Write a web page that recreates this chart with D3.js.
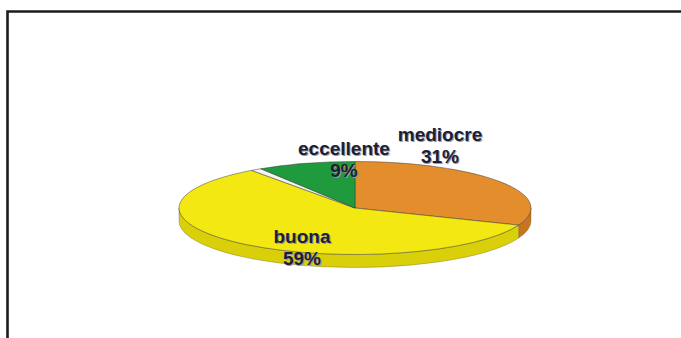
<!DOCTYPE html>
<html><head><meta charset="utf-8">
<script src="https://cdn.jsdelivr.net/npm/d3@7"></script>
<style>html,body{margin:0;padding:0;background:#fff;}svg{display:block;}</style>
</head><body>
<svg id="c" width="681" height="338"></svg>
<script>
// Data (clockwise from 12 o'clock)
const categories = ["mediocre", "buona", "", "eccellente"];
const values = [31, 59, 1, 9];
const labels = ["31%", "59%", "", "9%"];
const topColors = ["#e38d2c", "#f3e812", "#f4f4f2", "#1f9a3c"];
const sideColors = ["#c8741f", "#d9d00a", "#d8d8d8", "#17782e"];

const svg = d3.select("#c");
const W = 681, H = 338;

// frame
svg.append("path").attr("d", "M7.5,340 L7.5,11.5 L690,11.5")
  .attr("fill", "none").attr("stroke", "#1c1c1c").attr("stroke-width", 2.6);

const cx = 355, cy = 208, rx = 176, ry = 46.5, depth = 13;
const data = categories.map((c, i) => ({cat: c, value: values[i], label: labels[i], i}));
const pie = d3.pie().sort(null).value(d => d.value).startAngle(0).endAngle(2 * Math.PI);
const arcs = pie(data);
const topScale = d3.scaleOrdinal().domain(categories.map((c,i)=>i)).range(topColors);
const sideScale = d3.scaleOrdinal().domain(categories.map((c,i)=>i)).range(sideColors);

const px = t => cx + rx * Math.sin(t);
const py = (t, dy = 0) => cy - ry * Math.cos(t) + dy;

// sides (front half only: angles between PI/2 and 3PI/2)
const g = svg.append("g");
arcs.forEach(a => {
  const s = Math.max(a.startAngle, Math.PI / 2), e = Math.min(a.endAngle, 3 * Math.PI / 2);
  if (e <= s) return;
  const large = (e - s) > Math.PI ? 1 : 0;
  const d = `M${px(s)},${py(s)} A${rx},${ry} 0 ${large} 1 ${px(e)},${py(e)} ` +
            `L${px(e)},${py(e, depth)} A${rx},${ry} 0 ${large} 0 ${px(s)},${py(s, depth)} Z`;
  g.append("path").attr("d", d).attr("fill", sideScale(a.data.i))
    .attr("stroke", "#6a5a20").attr("stroke-width", 0.6).attr("stroke-opacity", 0.6);
});

// top faces
arcs.forEach(a => {
  const s = a.startAngle, e = a.endAngle;
  const large = (e - s) > Math.PI ? 1 : 0;
  const d = `M${cx},${cy} L${px(s)},${py(s)} A${rx},${ry} 0 ${large} 1 ${px(e)},${py(e)} Z`;
  g.append("path").attr("d", d).attr("fill", topScale(a.data.i))
    .attr("stroke", "#3a3a3a").attr("stroke-width", 0.7).attr("stroke-opacity", 0.7)
    .attr("stroke-linejoin", "round");
});

// labels
const labelPos = {
  "mediocre": [440, 141, 163],
  "buona": [302, 243, 265],
  "eccellente": [344, 155, 177]
};
const lg = svg.append("g").attr("font-family", "'Liberation Sans', Arial, sans-serif")
  .attr("font-weight", "bold").attr("font-size", 19).attr("text-anchor", "middle");
data.forEach(d => {
  const p = labelPos[d.cat];
  if (!p) return;
  [[1, 1, "#9a9aa6"], [0, 0, "#1d2035"]].forEach(([ox, oy, col]) => {
    lg.append("text").attr("x", p[0] + ox).attr("y", p[1] + oy).attr("fill", col).text(d.cat);
    lg.append("text").attr("x", p[0] + ox).attr("y", p[2] + oy).attr("fill", col).text(d.label);
  });
});
</script>
</body></html>
